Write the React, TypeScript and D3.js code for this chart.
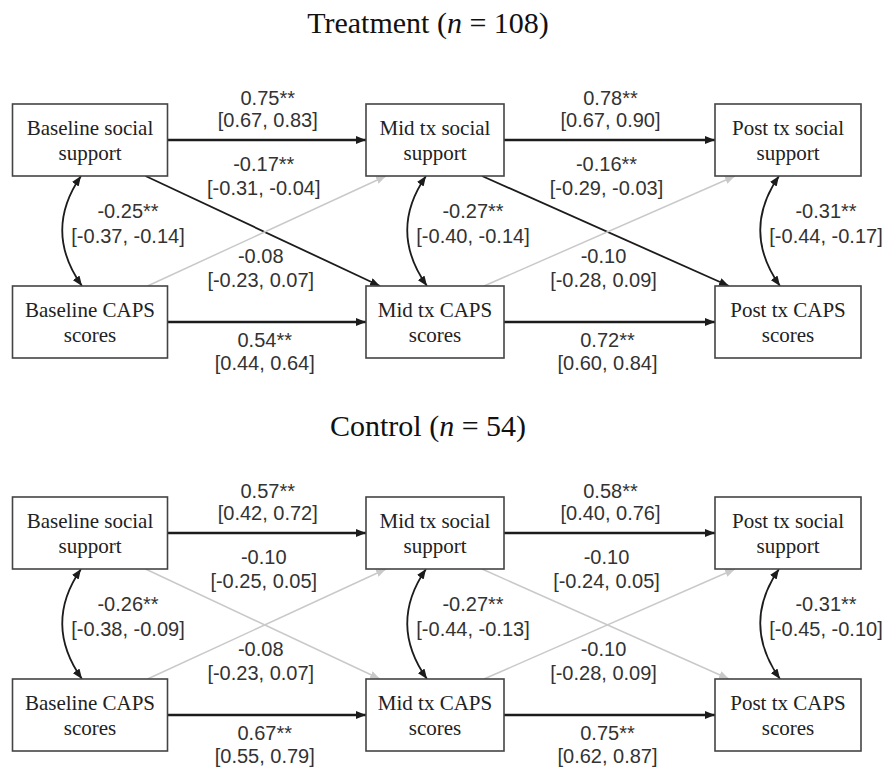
import React from "react";
import * as d3 from "d3";

const W = 889;
const H = 773;

// ---- data ----
const groups = ["Treatment", "Control"];
const groupSizes = [108, 54];
const timePoints = ["Baseline", "Mid tx", "Post tx"];
const constructs = ["social", "CAPS"];
const secondLines = ["support", "scores"];

type Path = {
  from: [number, number]; // [time index, construct index]
  to: [number, number];
  est: number;
  lo: number;
  hi: number;
  sig: boolean;
};
type Corr = { time: number; est: number; lo: number; hi: number; sig: boolean };

const treatmentPaths: Path[] = [
  { from: [0, 0], to: [1, 0], est: 0.75, lo: 0.67, hi: 0.83, sig: true },
  { from: [1, 0], to: [2, 0], est: 0.78, lo: 0.67, hi: 0.9, sig: true },
  { from: [0, 1], to: [1, 1], est: 0.54, lo: 0.44, hi: 0.64, sig: true },
  { from: [1, 1], to: [2, 1], est: 0.72, lo: 0.6, hi: 0.84, sig: true },
  { from: [0, 0], to: [1, 1], est: -0.17, lo: -0.31, hi: -0.04, sig: true },
  { from: [1, 0], to: [2, 1], est: -0.16, lo: -0.29, hi: -0.03, sig: true },
  { from: [0, 1], to: [1, 0], est: -0.08, lo: -0.23, hi: 0.07, sig: false },
  { from: [1, 1], to: [2, 0], est: -0.1, lo: -0.28, hi: 0.09, sig: false },
];
const treatmentCorrs: Corr[] = [
  { time: 0, est: -0.25, lo: -0.37, hi: -0.14, sig: true },
  { time: 1, est: -0.27, lo: -0.4, hi: -0.14, sig: true },
  { time: 2, est: -0.31, lo: -0.44, hi: -0.17, sig: true },
];

const controlPaths: Path[] = [
  { from: [0, 0], to: [1, 0], est: 0.57, lo: 0.42, hi: 0.72, sig: true },
  { from: [1, 0], to: [2, 0], est: 0.58, lo: 0.4, hi: 0.76, sig: true },
  { from: [0, 1], to: [1, 1], est: 0.67, lo: 0.55, hi: 0.79, sig: true },
  { from: [1, 1], to: [2, 1], est: 0.75, lo: 0.62, hi: 0.87, sig: true },
  { from: [0, 0], to: [1, 1], est: -0.1, lo: -0.25, hi: 0.05, sig: false },
  { from: [1, 0], to: [2, 1], est: -0.1, lo: -0.24, hi: 0.05, sig: false },
  { from: [0, 1], to: [1, 0], est: -0.08, lo: -0.23, hi: 0.07, sig: false },
  { from: [1, 1], to: [2, 0], est: -0.1, lo: -0.28, hi: 0.09, sig: false },
];
const controlCorrs: Corr[] = [
  { time: 0, est: -0.26, lo: -0.38, hi: -0.09, sig: true },
  { time: 1, est: -0.27, lo: -0.44, hi: -0.13, sig: true },
  { time: 2, est: -0.31, lo: -0.45, hi: -0.1, sig: true },
];

const panelPaths = [treatmentPaths, controlPaths];
const panelCorrs = [treatmentCorrs, controlCorrs];

// ---- layout ----
const panelTop = [0, 393];
const titleBaseline = [33, 436];
const boxWidths = [155, 138, 146];
const boxH = 72;

const colX = d3.scaleOrdinal<string, number>().domain(timePoints).range([90, 435, 788]);
const rowY = d3.scalePoint<string>().domain(constructs).range([140, 322]);

const fmtLocale = d3.formatLocale({
  decimal: ".",
  thousands: ",",
  grouping: [3],
  currency: ["", ""],
  minus: "-",
});
const f2 = fmtLocale.format(".2f");

const DARK = "#1c1c1c";
const LIGHT = "#c9c9c9";
const TEXT = "#333";
const serif = "'Liberation Serif', 'Times New Roman', serif";
const sans = "'Liberation Sans', Arial, sans-serif";

const left = (t: number) => colX(timePoints[t]) - boxWidths[t] / 2;
const right = (t: number) => colX(timePoints[t]) + boxWidths[t] / 2;
const cy = (c: number, p: number) => (rowY(constructs[c]) as number) + panelTop[p];

const line = d3.line<[number, number]>();

function Label({ x, y1, y2, lines }: { x: number; y1: number; y2: number; lines: string[] }) {
  return (
    <g fontFamily={sans} fontSize={20} fill={TEXT} textAnchor="middle">
      <text x={x} y={y1 + 7}>{lines[0]}</text>
      <text x={x} y={y2 + 7}>{lines[1]}</text>
    </g>
  );
}

function Panel({ p }: { p: number }) {
  const paths = panelPaths[p];
  const corrs = panelCorrs[p];
  return (
    <g>
      <text
        x={428}
        y={titleBaseline[p]}
        textAnchor="middle"
        fontFamily={serif}
        fontSize={30}
        fill="#111"
      >
        {groups[p]} (<tspan fontStyle="italic">n</tspan> = {groupSizes[p]})
      </text>

      {paths.map((d, i) => {
        const [t0, c0] = d.from;
        const [t1, c1] = d.to;
        const color = d.sig ? DARK : LIGHT;
        const marker = d.sig ? "url(#arrowDark)" : "url(#arrowLight)";
        const gapMid = (right(t0) + left(t1)) / 2;
        const stars = d.sig ? "**" : "";
        const lines = [`${f2(d.est)}${stars}`, `[${f2(d.lo)}, ${f2(d.hi)}]`];
        let pts: [number, number][];
        let lx: number, ly1: number, ly2: number;
        if (c0 === c1) {
          const y = cy(c0, p);
          pts = [
            [right(t0), y],
            [left(t1), y],
          ];
          if (c0 === 0) {
            lx = gapMid + 1;
            ly1 = y - 42;
            ly2 = y - 20;
          } else {
            lx = gapMid - 2;
            ly1 = y + 18;
            ly2 = y + 41;
          }
        } else if (c0 === 0) {
          pts = [
            [right(t0) - 22, cy(0, p) + boxH / 2],
            [left(t1) + 14, cy(1, p) - boxH / 2],
          ];
          lx = gapMid - 3;
          ly1 = cy(0, p) + 24;
          ly2 = cy(0, p) + 48;
        } else {
          pts = [
            [right(t0) - 20, cy(1, p) - boxH / 2],
            [left(t1) + 20, cy(0, p) + boxH / 2],
          ];
          lx = gapMid - 6;
          ly1 = cy(1, p) - 66;
          ly2 = cy(1, p) - 42;
        }
        const sw = c0 === c1 ? 2.6 : d.sig ? 1.8 : 1.5;
        return (
          <g key={i}>
            <path d={line(pts) as string} stroke={color} strokeWidth={sw} fill="none" markerEnd={marker} />
            <Label x={lx} y1={ly1} y2={ly2} lines={lines} />
          </g>
        );
      })}

      {corrs.map((d, i) => {
        const x0 = colX(timePoints[d.time]) - 9;
        const yTop = cy(0, p) + boxH / 2;
        const yBot = cy(1, p) - boxH / 2;
        const pth = d3.path();
        pth.moveTo(x0, yTop);
        pth.quadraticCurveTo(x0 - 38, (yTop + yBot) / 2, x0 + 1, yBot);
        const midY = (yTop + yBot) / 2;
        const lines = [`${f2(d.est)}${d.sig ? "**" : ""}`, `[${f2(d.lo)}, ${f2(d.hi)}]`];
        return (
          <g key={"c" + i}>
            <path
              d={pth.toString()}
              stroke={DARK}
              strokeWidth={1.8}
              fill="none"
              markerStart="url(#arrowDark)"
              markerEnd="url(#arrowDark)"
            />
            <Label x={x0 + 47} y1={midY - 20} y2={midY + 5} lines={lines} />
          </g>
        );
      })}

      {constructs.map((c, ci) =>
        timePoints.map((t, ti) => (
          <g key={c + t}>
            <rect
              x={left(ti)}
              y={cy(ci, p) - boxH / 2}
              width={boxWidths[ti]}
              height={boxH}
              fill="#fff"
              stroke="#444"
              strokeWidth={1.6}
            />
            <g fontFamily={serif} fontSize={21} fill="#222" textAnchor="middle">
              <text x={colX(t)} y={cy(ci, p) - 12.5 + 7}>{`${t} ${c}`}</text>
              <text x={colX(t)} y={cy(ci, p) + 12.5 + 7}>{secondLines[ci]}</text>
            </g>
          </g>
        ))
      )}
    </g>
  );
}

export default function App() {
  return (
    <svg
      width={W}
      height={H}
      viewBox={`0 0 ${W} ${H}`}
      style={{ position: "absolute", left: 0, top: 0, background: "#fff" }}
    >
      <defs>
        <marker
          id="arrowDark"
          viewBox="0 0 10 8"
          refX={10}
          refY={4}
          markerWidth={10}
          markerHeight={8}
          markerUnits="userSpaceOnUse"
          orient="auto-start-reverse"
        >
          <path d="M0,0 L10,4 L0,8 Z" fill={DARK} />
        </marker>
        <marker
          id="arrowLight"
          viewBox="0 0 10 8"
          refX={10}
          refY={4}
          markerWidth={10}
          markerHeight={8}
          markerUnits="userSpaceOnUse"
          orient="auto-start-reverse"
        >
          <path d="M0,0 L10,4 L0,8 Z" fill={LIGHT} />
        </marker>
      </defs>
      <rect width={W} height={H} fill="#fff" />
      {groups.map((g, p) => (
        <Panel key={g} p={p} />
      ))}
    </svg>
  );
}
